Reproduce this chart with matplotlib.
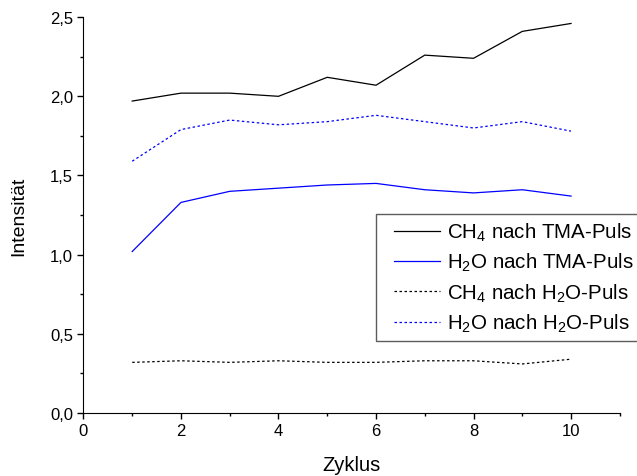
import matplotlib
matplotlib.use("Agg")
import matplotlib.pyplot as plt
from matplotlib.lines import Line2D
from matplotlib.legend_handler import HandlerLine2D
from matplotlib.ticker import MultipleLocator, FuncFormatter

plt.rcParams['font.family'] = ['Liberation Sans', 'DejaVu Sans']
plt.rcParams['mathtext.fontset'] = 'custom'
plt.rcParams['mathtext.rm'] = 'Liberation Sans'
plt.rcParams['mathtext.it'] = 'Liberation Sans'
plt.rcParams['mathtext.default'] = 'rm'

zyklus = [1, 2, 3, 4, 5, 6, 7, 8, 9, 10]
ch4_tma = [1.97, 2.02, 2.02, 2.00, 2.12, 2.07, 2.26, 2.24, 2.41, 2.46]
h2o_tma = [1.02, 1.33, 1.40, 1.42, 1.44, 1.45, 1.41, 1.39, 1.41, 1.37]
ch4_h2o = [0.32, 0.33, 0.32, 0.33, 0.32, 0.32, 0.33, 0.33, 0.31, 0.34]
h2o_h2o = [1.59, 1.79, 1.85, 1.82, 1.84, 1.88, 1.84, 1.80, 1.84, 1.78]

labels = ['CH$_4$ nach TMA-Puls', 'H$_2$O nach TMA-Puls',
          'CH$_4$ nach H$_2$O-Puls', 'H$_2$O nach H$_2$O-Puls']

fig = plt.figure(figsize=(6.37, 4.77), dpi=100)
ax = fig.add_axes([0.131, 0.132, 0.842, 0.830])

dot = (0, (2, 2))
ax.plot(zyklus, ch4_tma, color='black', lw=0.9, label=labels[0])
ax.plot(zyklus, h2o_tma, color='#0000ff', lw=0.9, label=labels[1])
ax.plot(zyklus, ch4_h2o, color='black', lw=0.9, ls=dot, label=labels[2])
ax.plot(zyklus, h2o_h2o, color='#0000ff', lw=0.9, ls=dot, label=labels[3])

ax.set_xlim(0, 11)
ax.set_ylim(0, 2.5)
ax.spines['top'].set_visible(False)
ax.spines['right'].set_visible(False)
ax.xaxis.set_major_locator(MultipleLocator(2))
ax.xaxis.set_minor_locator(MultipleLocator(1))
ax.yaxis.set_major_locator(MultipleLocator(0.5))
ax.yaxis.set_minor_locator(MultipleLocator(0.25))
ax.yaxis.set_major_formatter(FuncFormatter(lambda v, p: f"{v:.1f}".replace('.', ',')))
ax.tick_params(which='major', direction='out', length=4.5, width=1, labelsize=12, pad=3)
ax.tick_params(which='minor', direction='out', length=2, width=1)
ax.set_xlabel('Zyklus', fontsize=14.5, labelpad=12)
ax.set_ylabel('Intensität', fontsize=14, labelpad=16)

# extra space left of the handles, like the original legend
leg = fig.legend(loc='upper left', bbox_to_anchor=(0.590, 0.550),
                 bbox_transform=fig.transFigure, fontsize=14.8, frameon=True,
                 fancybox=False, handlelength=2.75, labelspacing=0.39,
                 borderpad=0.35, handletextpad=0.35, borderaxespad=0,
                 handler_map={Line2D: HandlerLine2D(xpad=0.55)})
leg.get_frame().set_edgecolor('#333333')
leg.get_frame().set_linewidth(1.0)

fig.savefig('out.png', dpi=100)
